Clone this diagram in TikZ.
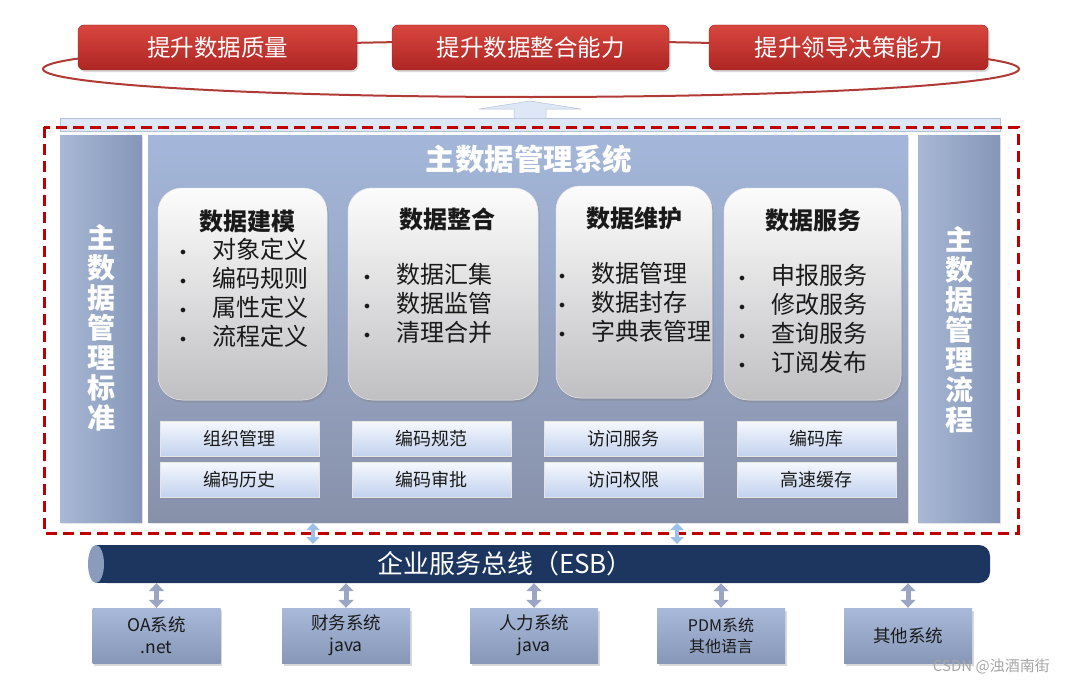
\documentclass[tikz,border=0pt]{standalone}
\usepackage{fontspec}
\setmainfont{Noto Sans CJK SC}
\usetikzlibrary{shadows,arrows.meta}
\definecolor{redA}{HTML}{D8473F}
\definecolor{redB}{HTML}{AE2523}
\definecolor{ellcol}{HTML}{B03A36}
\definecolor{barfill}{HTML}{DDE7F5}
\definecolor{barline}{HTML}{B5C2D8}
\definecolor{dashred}{HTML}{C00000}
\definecolor{colA}{HTML}{A8B8D5}
\definecolor{colB}{HTML}{8596B8}
\definecolor{panA}{HTML}{A4B7DA}
\definecolor{panB}{HTML}{8891AA}
\definecolor{rbA}{HTML}{FCFCFC}
\definecolor{rbB}{HTML}{C0C0C3}
\definecolor{btA}{HTML}{F5F8FE}
\definecolor{btB}{HTML}{C3D2EE}
\definecolor{esbcol}{HTML}{1C365F}
\definecolor{esbend}{HTML}{8A9BBC}
\definecolor{sysA}{HTML}{A9B9DA}
\definecolor{sysB}{HTML}{8797B8}
\definecolor{arrBlue}{HTML}{9DC0EA}
\definecolor{arrGray}{HTML}{9AA6C4}
\definecolor{txtdark}{HTML}{1A1A1A}
\newcommand{\bul}{\makebox[16pt]{\raisebox{3pt}{\fontsize{12}{12}\selectfont$\bullet$}}\hspace{21pt}}
\begin{document}
\begin{tikzpicture}[x=1pt,y=-1pt,
  redbox/.style={rounded corners=6pt, top color=redA, bottom color=redB, draw=redB!85!black, line width=0.4pt,
    text=white, font=\fontsize{23.5}{26}\selectfont, inner sep=0pt,
    drop shadow={opacity=0.3,shadow xshift=1.5pt,shadow yshift=-2pt}},
  column/.style={left color=colA, right color=colB, draw=none, inner sep=0pt,
    drop shadow={opacity=0.2,shadow xshift=1pt,shadow yshift=-1.5pt}},
  vtext/.style={text=white, font=\fontsize{28}{30}\selectfont\bfseries, align=center, inner sep=0pt},
  roundbox/.style={rounded corners=24pt, top color=rbA, bottom color=rbB, draw=white!85!gray, line width=0.5pt,
    inner sep=0pt, drop shadow={opacity=0.35,shadow xshift=1.5pt,shadow yshift=-2.5pt}},
  boxtitle/.style={font=\fontsize{24}{26}\selectfont\bfseries, text=txtdark, inner sep=0pt},
  itemlist/.style={font=\fontsize{24}{29}\selectfont, text=txtdark, align=left, inner sep=0pt, anchor=west},
  button/.style={top color=btA, bottom color=btB, draw=white!80!gray, line width=0.3pt,
    minimum width=159pt, minimum height=35pt, inner sep=0pt,
    font=\fontsize{18}{20}\selectfont, text=txtdark,
    drop shadow={opacity=0.35,shadow xshift=1pt,shadow yshift=-2pt}},
  sysbox/.style={top color=sysA, bottom color=sysB, draw=none, minimum width=128pt, minimum height=55pt,
    inner sep=0pt, align=center, font=\fontsize{17.5}{22}\selectfont, text=txtdark,
    drop shadow={opacity=0.3,shadow xshift=1.5pt,shadow yshift=-2.5pt}},
  dblblue/.style={draw=arrBlue, line width=4pt, {Triangle[width=13pt,length=7pt]}-{Triangle[width=13pt,length=7pt]}},
  dblgray/.style={draw=arrGray, line width=5pt, {Triangle[width=15pt,length=8pt]}-{Triangle[width=15pt,length=8pt]}}
]
\useasboundingbox (0,0) rectangle (1065,685);

% ---- top: goals ellipse and red boxes
\draw[ellcol, line width=2pt] (531,69) ellipse [x radius=488, y radius=28];
\node[redbox, minimum width=279pt, minimum height=45pt] (g1) at (217.5,47.5) {提升数据质量};
\node[redbox, minimum width=277pt, minimum height=45pt] (g2) at (530.5,47.5) {提升数据整合能力};
\node[redbox, minimum width=279pt, minimum height=45pt] (g3) at (848.5,47.5) {提升领导决策能力};

% ---- light bar and up arrow
\draw[fill=barfill, draw=barline, line width=0.5pt] (60,118) rectangle (1000,131);
\draw[fill=barfill, draw=barline, line width=0.5pt]
  (530,101) -- (581,109) -- (546,109) -- (546,118.5) -- (514,118.5) -- (514,109) -- (479,109) -- cycle;

% ---- columns and main panel
\node[column, minimum width=82pt, minimum height=387pt] (lcol) at (101,328.5) {};
\node[top color=panA, bottom color=panB, draw=none, inner sep=0pt, minimum width=760pt, minimum height=387pt,
  drop shadow={opacity=0.2,shadow xshift=1pt,shadow yshift=-1.5pt}] (main) at (528,328.5) {};
\node[column, minimum width=82pt, minimum height=387pt] (rcol) at (959,328.5) {};

\node[vtext] (lt) at (101,328) {主\\数\\据\\管\\理\\标\\准};
\node[vtext] (rt) at (959,330) {主\\数\\据\\管\\理\\流\\程};

\node[text=white, font=\fontsize{29.5}{32}\selectfont\bfseries, inner sep=0pt] (title) at (529,159) {主数据管理系统};

% ---- rounded function boxes
\node[roundbox, minimum width=169pt, minimum height=212pt] (m1) at (242.5,294) {};
\node[roundbox, minimum width=190pt, minimum height=212pt] (m2) at (443,294) {};
\node[roundbox, minimum width=156pt, minimum height=212pt] (m3) at (634,292) {};
\node[roundbox, minimum width=177pt, minimum height=212pt] (m4) at (812.5,294) {};

\node[boxtitle] (t1) at (247,221) {数据建模};
\node[boxtitle] (t2) at (447,219) {数据整合};
\node[boxtitle] (t3) at (634,218) {数据维护};
\node[boxtitle] (t4) at (813,220) {数据服务};

\node[itemlist] (i1) at (175,293) {\bul 对象定义\\\bul 编码规则\\\bul 属性定义\\\bul 流程定义};
\node[itemlist] (i2) at (359,303.5) {\bul 数据汇集\\\bul 数据监管\\\bul 清理合并};
\node[itemlist] (i3) at (554,302.5) {\bul 数据管理\\\bul 数据封存\\\bul 字典表管理};
\node[itemlist] (i4) at (734,318.5) {\bul 申报服务\\\bul 修改服务\\\bul 查询服务\\\bul 订阅发布};

% ---- buttons
\node[button] (b11) at (239.5,438.5) {组织管理};
\node[button] (b12) at (431.5,438.5) {编码规范};
\node[button] (b13) at (623.5,438.5) {访问服务};
\node[button] (b14) at (816.5,438.5) {编码库};
\node[button] (b21) at (239.5,479.5) {编码历史};
\node[button] (b22) at (431.5,479.5) {编码审批};
\node[button] (b23) at (623.5,479.5) {访问权限};
\node[button] (b24) at (816.5,479.5) {高速缓存};

% ---- dashed boundary
\draw[dashred, line width=3pt, dash pattern=on 11pt off 6pt] (44,127) rectangle (1018,533);

% ---- ESB
\node[fill=esbcol, draw=none, rounded corners=11pt, inner sep=0pt, minimum width=894pt, minimum height=38pt] (esb) at (543,564) {};
\fill[esbcol] (96,545) rectangle (120,583);
\fill[esbend] (96,564) ellipse [x radius=8, y radius=19];
\node[text=white, font=\fontsize{26}{28}\selectfont, inner sep=0pt] (esbt) at (505,564) {企业服务总线（ESB）};

\coordinate (u1) at (313,523);
\coordinate (d1) at (313,544);
\coordinate (u2) at (677,523);
\coordinate (d2) at (677,544);
\draw[dblblue] (u1) -- (d1);
\draw[dblblue] (u2) -- (d2);

% ---- bottom systems
\node[sysbox] (s1) at (156.5,635.5) {OA系统\\.net};
\node[sysbox] (s2) at (346,635.5) {财务系统\\java};
\node[sysbox] (s3) at (534,635.5) {人力系统\\java};
\node[sysbox, font=\fontsize{16}{21}\selectfont] (s4) at (721,635.5) {PDM系统\\其他语言};
\node[sysbox] (s5) at (908,635.5) {其他系统};

\foreach \s in {s1,s2,s3,s4,s5}{
  \draw[dblgray] (\s.north |- esb.south) -- (\s.north);
}

\node[text=black!35, font=\fontsize{15}{18}\selectfont, inner sep=0pt, anchor=east] (wm) at (1050,666) {CSDN @浊酒南街};
\end{tikzpicture}
\end{document}
